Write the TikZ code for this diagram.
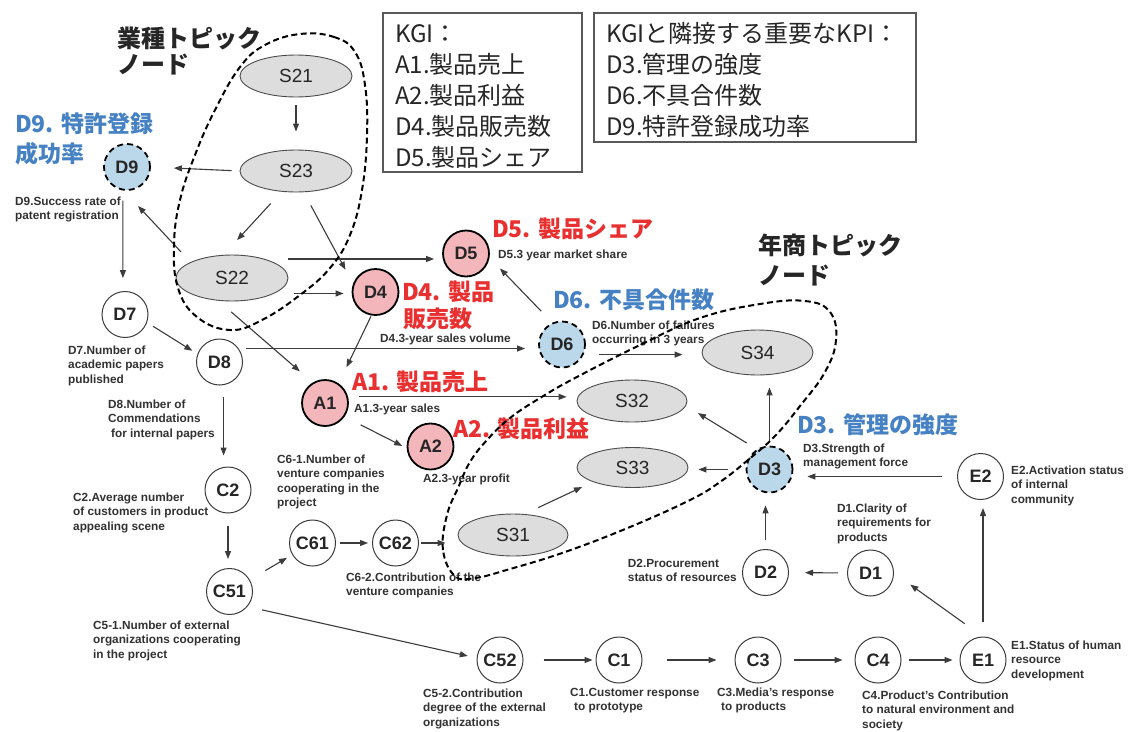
\documentclass[tikz,border=0pt]{standalone}
\usepackage{fontspec}
\setmainfont{Liberation Sans}
\newfontfamily\jp{Noto Sans CJK JP}
\usetikzlibrary{shapes.geometric,arrows.meta}
\definecolor{kgired}{RGB}{232,48,48}
\definecolor{kpiblue}{RGB}{70,130,195}
\definecolor{pinkfill}{RGB}{243,182,187}
\definecolor{bluefill}{RGB}{187,216,235}
\definecolor{ellfill}{RGB}{221,221,221}
\definecolor{linegray}{RGB}{60,60,60}
\definecolor{descgray}{RGB}{50,50,50}
\newcommand\mystrut{\rule{0pt}{9pt}}
\begin{document}
\begin{tikzpicture}[x=1pt,y=-1pt,
  circ/.style={circle, minimum size=46pt, inner sep=0pt, draw=linegray, line width=1pt, fill=white, font=\fontsize{18}{20}\selectfont\bfseries, text=black!85},
  kgi/.style={circ, fill=pinkfill, draw=black, line width=1.8pt},
  kpi/.style={circ, fill=bluefill, draw=black, line width=1.8pt, dash pattern=on 6pt off 4pt},
  topic/.style={ellipse, minimum width=112pt, minimum height=42pt, inner sep=0pt, fill=ellfill, draw=black!70, line width=0.9pt, font=\fontsize{19}{21}\selectfont, text=black!85},
  desc/.style={anchor=north west, inner sep=0pt, align=left, font=\fontsize{11.8}{14.5}\selectfont\bfseries, text=descgray},
  redlab/.style={anchor=base west, inner sep=0pt, font=\jp\bfseries\fontsize{23}{25}\selectfont, text=kgired},
  bluelab/.style={redlab, text=kpiblue},
  jplab/.style={anchor=base west, inner sep=0pt, font=\jp\bfseries\fontsize{24}{26}\selectfont, text=black!85},
  boxline/.style={anchor=base west, inner sep=0pt, font=\jp\fontsize{24}{26}\selectfont, text=black!85},
  infobox/.style={draw=black!65, line width=1.2pt, inner sep=0pt},
  arr/.style={draw=linegray, line width=1.1pt, -{Triangle[length=8pt,width=6pt]}},
  topicloop/.style={draw=black, line width=2pt, dash pattern=on 6pt off 3.5pt},
]
\fill[white] (0,0) rectangle (1129,731);
\useasboundingbox (0,0) rectangle (1129,731);

% info boxes
\node[infobox, minimum width=199pt, minimum height=159pt] (kgibox) at (482.5,92.5) {};
\node[boxline] (k0) at (395,42) {KGI：};
\node[boxline] (k1) at (395,73) {A1.製品売上};
\node[boxline] (k2) at (395,104) {A2.製品利益};
\node[boxline] (k3) at (395,135) {D4.製品販売数};
\node[boxline] (k4) at (395,166) {D5.製品シェア};
\node[infobox, minimum width=322pt, minimum height=129pt] (kpibox) at (755,77.5) {};
\node[boxline] (p0) at (606,42) {KGIと隣接する重要なKPI：};
\node[boxline] (p1) at (606,73) {D3.管理の強度};
\node[boxline] (p2) at (606,104) {D6.不具合件数};
\node[boxline] (p3) at (606,135) {D9.特許登録成功率};

% topic titles
\node[jplab] (t1a) at (117,47) {業種トピック};
\node[jplab] (t1b) at (117,73) {ノード};
\node[jplab] (t2a) at (758,254) {年商トピック};
\node[jplab] (t2b) at (758,284) {ノード};

% red / blue labels
\node[bluelab] (l9a) at (15,132) {D9. 特許登録};
\node[bluelab] (l9b) at (15,162) {成功率};
\node[redlab] (l5) at (492,237) {D5. 製品シェア};
\node[redlab] (l4a) at (402,300) {D4. 製品};
\node[redlab] (l4b) at (403,327) {販売数};
\node[redlab] (la1) at (352,390) {A1. 製品売上};
\node[redlab] (la2) at (453,437) {A2. 製品利益};
\node[bluelab] (l6) at (553,308) {D6. 不具合件数};
\node[bluelab] (l3) at (797,433) {D3. 管理の強度};

% ellipses
\node[topic] (S21) at (296,76) {S21};
\node[topic] (S23) at (296,171) {S23};
\node[topic, minimum height=46pt] (S22) at (232,278) {S22};
\node[topic, minimum width=110pt] (S32) at (632,401) {S32};
\node[topic, minimum width=111pt, minimum height=40pt] (S33) at (632.5,467.5) {S33};
\node[topic, minimum width=111pt, minimum height=45pt] (S34) at (757.5,352.5) {S34};
\node[topic, minimum width=110pt] (S31) at (513,535) {S31};

% circles
\node[kpi] (D9) at (127,167) {D9};
\node[circ] (D7) at (125,314.5) {D7};
\node[circ] (D8) at (219.5,362) {D8};
\node[kgi] (D4) at (375.5,292) {D4};
\node[kgi] (D5) at (466,253.5) {D5};
\node[kgi] (A1) at (325,403) {A1};
\node[kgi] (A2) at (430.5,446.5) {A2};
\node[kpi] (D6) at (562,344.5) {D6};
\node[kpi] (D3) at (769.5,469.5) {D3};
\node[circ] (E2) at (980.5,476.5) {E2};
\node[circ] (D2) at (765.5,572.5) {D2};
\node[circ] (D1) at (870.5,573) {D1};
\node[circ] (C2) at (228,490) {C2};
\node[circ] (C51) at (229.5,591.5) {C51};
\node[circ] (C61) at (312.5,543) {C61};
\node[circ] (C62) at (395.5,543) {C62};
\node[circ] (C52) at (500,660) {C52};
\node[circ] (C1) at (619,660) {C1};
\node[circ] (C3) at (758,660) {C3};
\node[circ] (C4) at (878,660) {C4};
\node[circ] (E1) at (983,660) {E1};

% descriptions
\node[desc] (dD9) at (15,196) {\mystrut D9.Success rate of\\patent registration};
\node[desc] (dD7) at (68,345) {\mystrut D7.Number of\\academic papers\\published};
\node[desc] (dD8) at (108,399) {\mystrut D8.Number of\\Commendations\\\hspace{3pt}for internal papers};
\node[desc] (dC2) at (73,492) {\mystrut C2.Average number\\of customers in product\\appealing scene};
\node[desc] (dC61) at (277,454) {\mystrut C6-1.Number of\\venture companies\\cooperating in the\\project};
\node[desc] (dC51) at (93,620) {\mystrut C5-1.Number of external\\organizations cooperating\\in the project};
\node[desc] (dC62) at (346,572) {\mystrut C6-2.Contribution of the\\venture companies};
\node[desc] (dC52) at (423,688) {\mystrut C5-2.Contribution\\degree of the external\\organizations};
\node[desc] (dC1) at (570,687) {\mystrut C1.Customer response\\\hspace{4pt}to prototype};
\node[desc] (dC3) at (717,687) {\mystrut C3.Media's response\\\hspace{4pt}to products};
\node[desc] (dC4) at (862,690) {\mystrut C4.Product's Contribution\\to natural environment and\\society};
\node[desc] (dE1) at (1011,640) {\mystrut E1.Status of human\\resource\\development};
\node[desc] (dD1) at (837,503) {\mystrut D1.Clarity of\\requirements for\\products};
\node[desc, anchor=north east] (dD2) at (737,558) {\mystrut D2.Procurement\\status of resources};
\node[desc] (dE2) at (1011,465) {\mystrut E2.Activation status\\of internal\\community};
\node[desc] (dD3) at (803,443) {\mystrut D3.Strength of\\management force};
\node[desc] (dD6) at (592,320) {\mystrut D6.Number of failures\\occurring in 3 years};
\node[desc] (dD5) at (498,249) {\mystrut D5.3 year market share};
\node[desc] (dD4) at (380,333) {\mystrut D4.3-year sales volume};
\node[desc] (dA1) at (354,403) {\mystrut A1.3-year sales};
\node[desc] (dA2) at (423,473) {\mystrut A2.3-year profit};

% arrows
\draw[arr, shorten <=8pt, shorten >=18pt] (S21.south) -- (S23.north);
\draw[arr, shorten <=8pt, shorten >=23pt] (S23.west) -- (D9.east);
\draw[arr, shorten <=16pt, shorten >=20pt] (S23.235) -- (S22.110);
\draw[arr, shorten <=15pt, shorten >=16pt] (S23.290) -- (D4.160);
\draw[arr, shorten <=14pt, shorten >=21pt] (S22.159) -- (D9.262);
\draw[arr, shorten <=23pt, shorten >=8pt] (S22.30) -- (S22.30 -| D5.west);
\draw[arr, shorten <=20pt, shorten >=8pt] (S22.-20) -- (S22.-20 -| D4.west);
\draw[arr, shorten <=17pt, shorten >=17pt] (S22.239) -- (A1.121);
\draw[arr, shorten <=10pt, shorten >=13pt] (D9.260) -- (D7.95);
\draw[arr, shorten <=7pt, shorten >=6pt] (D7.-20) -- (D8.160);
\draw[arr, shorten <=7pt, shorten >=13pt] (D8.35) -- (D8.35 -| D6.west);
\draw[arr, shorten <=12pt, shorten >=11pt] (D8.-80) -- (D8.-80 |- C2.north);
\draw[arr, shorten <=1pt, shorten >=18pt] (D4.260) -- (A1.55);
\draw[arr, shorten <=16pt, shorten >=15pt] (D6.114) -- (D5.-10);
\draw[arr, shorten <=11pt, shorten >=10pt] (A1.15) -- (A1.15 -| S32.west);
\draw[arr, shorten <=18pt, shorten >=5pt] (A1.-35) -- (A2.184);
\draw[arr, shorten <=15pt, shorten >=19pt] (D6.-25) -- (D6.-25 -| S34.west);
\draw[arr, shorten <=12pt, shorten >=9pt] (C2.south) -- (C2.south |- C51.north);
\draw[arr, shorten <=18pt, shorten >=6pt] (C51.30) -- (C61.210);
\draw[arr, shorten <=4pt, shorten >=4pt] (C61.east) -- (C62.west);
\draw[arr, shorten <=2pt, shorten >=12pt] (C62.east) -- (C62.east -| S31.west);
\draw[arr, shorten <=15pt, shorten >=9pt] (C51.-40) -- (C52.175);
\draw[arr, shorten <=20pt, shorten >=3pt] (C52.east) -- (C1.west);
\draw[arr, shorten <=24pt, shorten >=18pt] (C1.east) -- (C3.west);
\draw[arr, shorten <=12pt, shorten >=12pt] (C3.east) -- (C4.west);
\draw[arr, shorten <=7pt, shorten >=7pt] (C4.east) -- (E1.west);
\draw[arr, shorten <=22pt, shorten >=20pt] (E1.91) -- (D1.east);
\draw[arr, shorten <=15pt, shorten >=8pt] (E1.north) -- (E1.north |- E2.south);
\draw[arr, shorten <=15pt, shorten >=14pt] (E2.west) -- (E2.west -| D3.east);
\draw[arr, shorten <=9pt, shorten >=16pt] (D1.west) -- (D2.east);
\draw[arr, shorten <=9pt, shorten >=12pt] (D2.north) -- (D2.north |- D3.south);
\draw[arr, shorten <=18pt, shorten >=10pt] (D3.west) -- (D3.west -| S33.east);
\draw[arr, shorten <=12pt, shorten >=14pt] (D3.122) -- (S32.-5);
\draw[arr, shorten <=5pt, shorten >=12pt] (D3.north) -- (D3.north |- S34.south);
\draw[arr, shorten <=15pt, shorten >=12pt] (S31.61) -- (S33.200);

% topic loops
\draw[topicloop] plot[smooth cycle, tension=0.7] coordinates {(300,34) (334,37) (355,52) (365,85) (367,135) (362,190) (350,235) (330,268) (300,295) (262,320) (230,330) (197,317) (178,288) (174,245) (180,200) (195,155) (215,110) (240,67) (265,45)};
\draw[topicloop] plot[smooth cycle, tension=0.7] coordinates {(455,576) (443,550) (447,515) (458,488) (470,462) (487,440) (510,418) (540,398) (575,378) (640,345) (700,318) (760,304) (805,301) (830,312) (836,340) (825,372) (800,406) (775,436) (748,460) (720,482) (690,500) (630,527) (565,552) (510,569) (475,578)};
\end{tikzpicture}
\end{document}
